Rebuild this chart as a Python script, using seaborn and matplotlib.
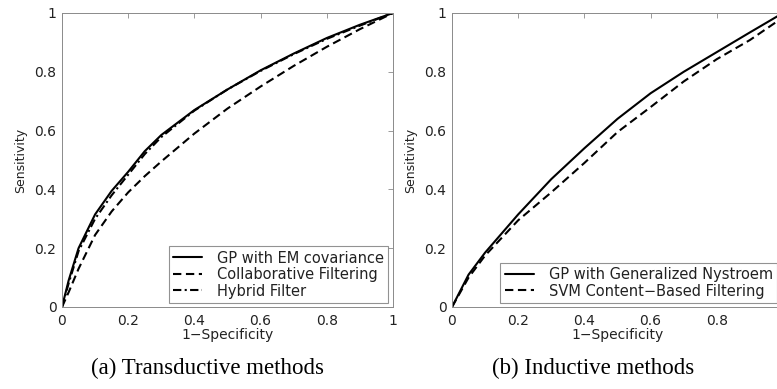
import matplotlib
matplotlib.use("Agg")
import matplotlib.pyplot as plt
import seaborn as sns
import pandas as pd

# ---- data ----
fpr_a = [0, 0.02, 0.05, 0.1, 0.15, 0.2, 0.25, 0.3, 0.4, 0.5, 0.6, 0.7, 0.8, 0.9, 1.0]
gp_em = [0, 0.09, 0.2, 0.315, 0.395, 0.46, 0.53, 0.585, 0.67, 0.74, 0.805, 0.862, 0.915, 0.96, 1.0]
collab = [0, 0.05, 0.13, 0.245, 0.325, 0.39, 0.445, 0.495, 0.59, 0.675, 0.75, 0.82, 0.885, 0.945, 1.0]
hybrid = [0, 0.08, 0.19, 0.3, 0.38, 0.45, 0.52, 0.578, 0.668, 0.74, 0.803, 0.86, 0.912, 0.957, 1.0]

fpr_b = [0, 0.05, 0.1, 0.15, 0.2, 0.3, 0.4, 0.5, 0.6, 0.7, 0.8, 0.9, 1.0]
gp_nys = [0, 0.11, 0.185, 0.25, 0.315, 0.435, 0.54, 0.64, 0.727, 0.80, 0.867, 0.934, 1.0]
svm_cb = [0, 0.10, 0.175, 0.235, 0.295, 0.39, 0.49, 0.595, 0.68, 0.767, 0.843, 0.908, 0.985]

labels_a = ["GP with EM covariance", "Collaborative Filtering", "Hybrid Filter"]
labels_b = ["GP with Generalized Nystroem", "SVM Content\u2212Based Filtering"]
ticks = [0, 0.2, 0.4, 0.6, 0.8, 1]
tick_labels_a = ["0", "0.2", "0.4", "0.6", "0.8", "1"]
tick_labels_b_x = ["0", "0.2", "0.4", "0.6", "0.8", ""]
captions = ["(a) Transductive methods", "(b) Inductive methods"]

sns.set_style("white")
plt.rcParams["font.family"] = ["DejaVu Sans"]

text_col = "#222222"
spine_col = "#8a8a8a"

df_a = pd.concat([
    pd.DataFrame({"x": fpr_a, "y": gp_em, "method": labels_a[0]}),
    pd.DataFrame({"x": fpr_a, "y": collab, "method": labels_a[1]}),
    pd.DataFrame({"x": fpr_a, "y": hybrid, "method": labels_a[2]}),
])
df_b = pd.concat([
    pd.DataFrame({"x": fpr_b, "y": gp_nys, "method": labels_b[0]}),
    pd.DataFrame({"x": fpr_b, "y": svm_cb, "method": labels_b[1]}),
])

fig = plt.figure(figsize=(7.77, 3.89), dpi=100)
W, H = 777, 389
ax_w, ax_h = 331 / W, 294 / H
bottom = (H - 307) / H
ax1 = fig.add_axes([62 / W, bottom, ax_w, ax_h])
ax2 = fig.add_axes([452 / W, bottom, ax_w, ax_h])

dash_a = {labels_a[0]: "", labels_a[1]: (4, 2.2), labels_a[2]: (4, 1.6, 1, 1.6)}
dash_b = {labels_b[0]: "", labels_b[1]: (4, 2.2)}

sns.lineplot(data=df_a, x="x", y="y", hue="method", style="method",
             palette=["black"] * 3, dashes=dash_a, ax=ax1, linewidth=1.5,
             sort=False, estimator=None)
sns.lineplot(data=df_b, x="x", y="y", hue="method", style="method",
             palette=["black"] * 2, dashes=dash_b, ax=ax2, linewidth=1.5,
             sort=False, estimator=None)

for ax, anchor, xtl in ((ax1, (0.985, 0.014), tick_labels_a),
                        (ax2, (0.982, 0.014), tick_labels_b_x)):
    ax.set_xlim(0, 1)
    ax.set_ylim(0, 1)
    ax.set_xticks(ticks)
    ax.set_xticklabels(xtl)
    ax.set_yticks(ticks)
    ax.set_yticklabels(tick_labels_a)
    ax.tick_params(direction="in", length=3.5, width=0.6, color=spine_col,
                   top=True, right=True, labelsize=10, labelcolor=text_col)
    ax.tick_params(axis="x", pad=5)
    ax.tick_params(axis="y", pad=4)
    for s in ax.spines.values():
        s.set_visible(True)
        s.set_color(spine_col)
        s.set_linewidth(0.7)
    ax.set_xlabel("1\u2212Specificity", fontsize=10, color=text_col, labelpad=0)
    ax.set_ylabel("Sensitivity", fontsize=9, color=text_col, labelpad=5)
    h, l = ax.get_legend_handles_labels()
    leg = ax.legend(h, l, loc="lower right", bbox_to_anchor=anchor,
                    borderaxespad=0, fontsize=10.5, frameon=True, fancybox=False,
                    handlelength=2.0, handletextpad=1.0, labelspacing=0.1,
                    borderpad=0.3)
    leg.get_frame().set_edgecolor("#777777")
    leg.get_frame().set_linewidth(0.8)
    for t in leg.get_texts():
        t.set_color(text_col)

fig.text(207 / W, 1 - 368 / H, captions[0], ha="center", va="center",
         fontsize=16.5, family="Liberation Serif", color="black")
fig.text(593 / W, 1 - 368 / H, captions[1], ha="center", va="center",
         fontsize=16.5, family="Liberation Serif", color="black")

fig.savefig("out.png", dpi=100)
